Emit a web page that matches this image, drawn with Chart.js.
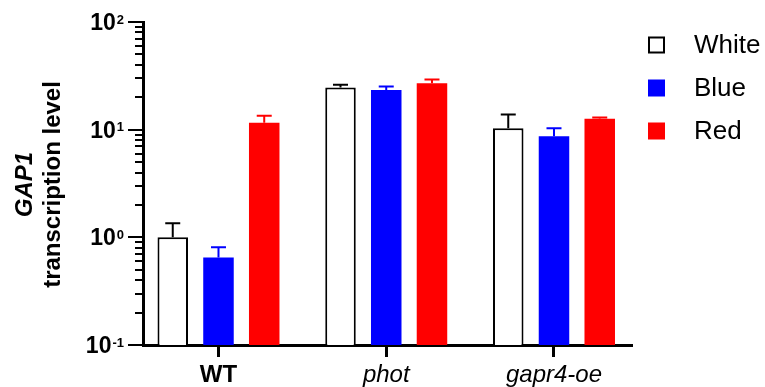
<!DOCTYPE html>
<html>
<head>
<meta charset="utf-8">
<script src="https://cdn.jsdelivr.net/npm/chart.js@4.4.1/dist/chart.umd.min.js"></script>
<style>
  html, body { margin: 0; padding: 0; background: #fff; }
  #wrap { width: 765px; height: 387px; position: relative; }
</style>
</head>
<body>
<div id="wrap"><canvas id="myChart"></canvas></div>
<script>
const FONT = "'Liberation Sans', Arial, sans-serif";

const categories = ['WT', 'phot', 'gapr4-oe'];
const seriesNames = ['White', 'Blue', 'Red'];
const whiteValues = [1.0, 24.7, 10.3];
const blueValues = [0.65, 23.3, 8.7];
const redValues = [11.6, 27.0, 12.6];
// upper error (SD) for each bar
const whiteErr = [0.35, 1.4, 3.5];
const blueErr = [0.16, 1.9, 1.6];
const redErr = [1.9, 2.2, 0.4];
const yTickValues = [0.1, 1, 10, 100];
const yTickExponents = ['-1', '0', '1', '2'];

// error bars, log ticks with superscripts, axis title and legend
const extras = {
  id: 'extras',
  afterDatasetsDraw(chart) {
    const ctx = chart.ctx;
    const y = chart.scales.y;
    chart.data.datasets.forEach((ds, i) => {
      const meta = chart.getDatasetMeta(i);
      meta.data.forEach((bar, j) => {
        const top = y.getPixelForValue(ds.data[j] + ds.errors[j]);
        ctx.save();
        ctx.strokeStyle = ds.errColor;
        ctx.lineWidth = 2;
        ctx.beginPath();
        ctx.moveTo(bar.x, bar.y);
        ctx.lineTo(bar.x, top);
        ctx.moveTo(bar.x - 7.5, top);
        ctx.lineTo(bar.x + 7.5, top);
        ctx.stroke();
        ctx.restore();
      });
    });
  },
  afterDraw(chart) {
    const ctx = chart.ctx;
    const y = chart.scales.y;
    const area = chart.chartArea;
    const left = area.left;
    const midY = (area.top + area.bottom) / 2;

    ctx.save();
    ctx.strokeStyle = '#000';
    ctx.lineWidth = 2;
    ctx.beginPath();
    for (let d = -1; d <= 1; d++) {
      for (let m = 2; m <= 9; m++) {
        const py = Math.round(y.getPixelForValue(m * Math.pow(10, d)));
        ctx.moveTo(left - 8, py);
        ctx.lineTo(left, py);
      }
    }
    yTickValues.forEach(v => {
      const py = Math.round(y.getPixelForValue(v));
      ctx.moveTo(left - 15, py);
      ctx.lineTo(left, py);
    });
    ctx.stroke();

    // tick labels: 10 with superscript exponent
    ctx.fillStyle = '#000';
    ctx.textAlign = 'right';
    ctx.textBaseline = 'alphabetic';
    yTickValues.forEach((v, i) => {
      const py = y.getPixelForValue(v);
      const ex = left - 19;
      ctx.font = 'bold 13px ' + FONT;
      const w = ctx.measureText(yTickExponents[i]).width;
      ctx.fillText(yTickExponents[i], ex, py + 1.5);
      ctx.font = 'bold 23px ' + FONT;
      ctx.fillText('10', ex - w - 1, py + 8);
    });

    // y axis title
    ctx.textAlign = 'center';
    ctx.textBaseline = 'middle';
    ctx.save();
    ctx.translate(25, midY + 1);
    ctx.rotate(-Math.PI / 2);
    ctx.font = 'italic bold 24px ' + FONT;
    ctx.fillText('GAP1', 0, 0);
    ctx.restore();
    ctx.save();
    ctx.translate(53, midY + 1);
    ctx.rotate(-Math.PI / 2);
    ctx.font = 'bold 24px ' + FONT;
    ctx.fillText('transcription level', 0, 0);
    ctx.restore();

    // legend
    ctx.textAlign = 'left';
    ctx.font = '26px ' + FONT;
    chart.data.datasets.forEach((ds, i) => {
      const cy = area.top + 23 + i * 43;
      const bx = area.right + 16;
      ctx.fillStyle = ds.backgroundColor;
      ctx.fillRect(bx, cy - 8.5, 17, 17);
      if (ds.borderWidth) {
        ctx.strokeStyle = ds.borderColor;
        ctx.lineWidth = 2;
        ctx.strokeRect(bx + 1, cy - 7.5, 15, 15);
      }
      ctx.fillStyle = '#000';
      ctx.fillText(ds.label, bx + 46, cy + 1);
    });
    ctx.restore();
  }
};

const ctx = document.getElementById('myChart').getContext('2d');

const myChart = new Chart(ctx, {
  type: 'bar',
  data: {
    labels: categories,
    datasets: [
      {
        label: seriesNames[0],
        data: whiteValues,
        errors: whiteErr,
        errColor: '#000000',
        backgroundColor: '#FFFFFF',
        borderColor: '#000000',
        borderWidth: 2
      },
      {
        label: seriesNames[1],
        data: blueValues,
        errors: blueErr,
        errColor: '#0000FF',
        backgroundColor: '#0000FF',
        borderWidth: 0
      },
      {
        label: seriesNames[2],
        data: redValues,
        errors: redErr,
        errColor: '#FF0000',
        backgroundColor: '#FF0000',
        borderWidth: 0
      }
    ]
  },
  options: {
    responsive: true,
    maintainAspectRatio: false,
    animation: false,
    categoryPercentage: 0.818,
    barPercentage: 0.667,
    layout: { padding: { left: 143, right: 133, top: 22, bottom: 0 } },
    plugins: {
      legend: { display: false },
      tooltip: { enabled: false }
    },
    scales: {
      x: {
        type: 'category',
        offset: true,
        afterBuildTicks: (scale) => {
          // GraphPad-style spacing: first group closer to the y axis
          scale._startValue = -0.45;
          scale._valueRange = 2.915;
        },
        afterFit: (scale) => {
          scale.height = 42;
        },
        grid: {
          display: true,
          drawOnChartArea: false,
          offset: false,
          drawTicks: true,
          tickLength: 12,
          tickWidth: 3,
          tickColor: '#000'
        },
        border: { display: true, color: '#000', width: 3 },
        ticks: {
          color: '#000',
          padding: 4,
          font: (c) => ({
            family: FONT,
            size: 24,
            weight: c.index === 0 ? 'bold' : 'normal',
            style: c.index === 0 ? 'normal' : 'italic'
          })
        }
      },
      y: {
        type: 'logarithmic',
        min: 0.1,
        max: 100,
        ticks: { display: false },
        grid: { display: false, drawTicks: false },
        border: { display: true, color: '#000', width: 3 }
      }
    }
  },
  plugins: [extras]
});
</script>
</body>
</html>
